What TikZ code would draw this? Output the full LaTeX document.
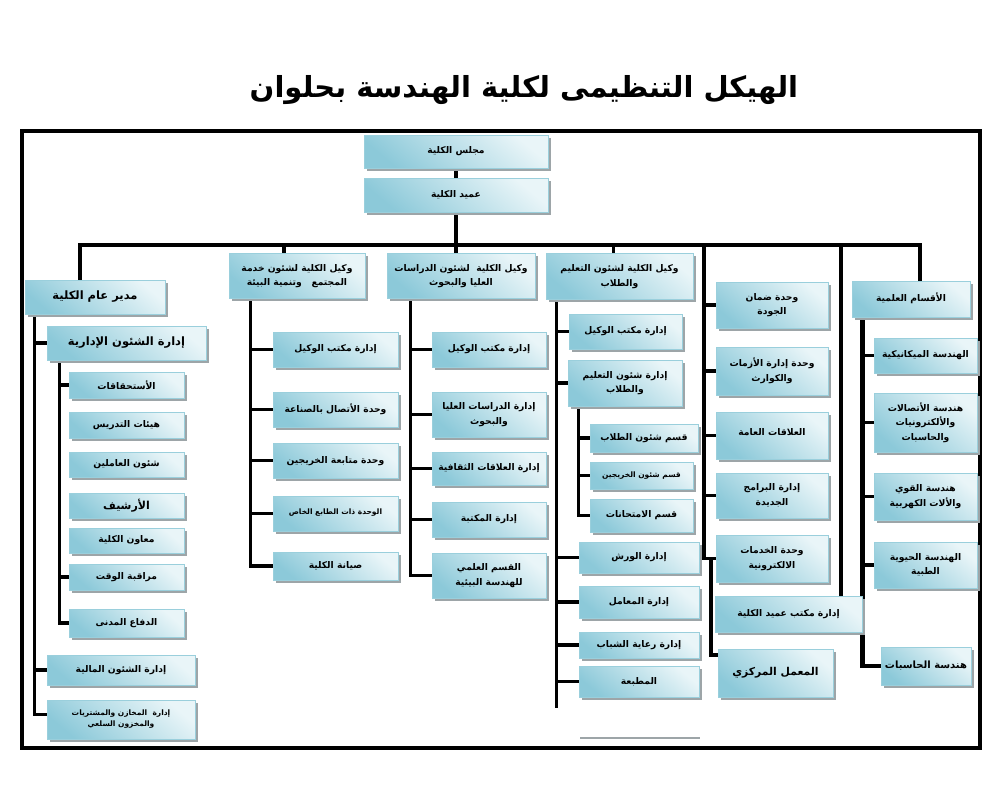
\documentclass[tikz,border=0pt]{standalone}
\usepackage{fontspec}
\usetikzlibrary{shadows,calc}
\TeXXeTstate=1
\newfontfamily\arabicfont[Script=Arabic]{DejaVu Sans}
\newcommand\ar[1]{{\arabicfont\bfseries\beginR #1\endR}}
\newcommand\up[2]{\raisebox{#1pt}{\begin{tabular}{@{}c@{}}#2\end{tabular}}}
\definecolor{boxdark}{HTML}{8CC9D9}
\definecolor{boxlight}{HTML}{E9F5F8}
\definecolor{boxedge}{HTML}{9ACFDC}
\definecolor{shadowc}{HTML}{9DA5A8}
\pgfdeclarelayer{bg}
\pgfsetlayers{bg,main}
\tikzset{
  box/.style={rectangle, inner sep=1pt, draw=boxedge, line width=0.6pt,
    top color=boxlight, bottom color=boxdark, shading angle=-40,
    drop shadow={shadow xshift=2.5pt, shadow yshift=-2.5pt, fill=shadowc, opacity=1},
    align=center, font=\fontsize{9.2}{14.5}\selectfont, text=black},
  big/.style={font=\fontsize{11.5}{14}\selectfont},
  small/.style={font=\fontsize{7.5}{11}\selectfont},
  conn/.style={line width=3.2pt, black},
  thick conn/.style={line width=4.5pt, black},
}
\newcommand\bx[7][]{%
  \pgfmathsetmacro\bxw{#5-#3}\pgfmathsetmacro\bxh{#6-#4}%
  \pgfmathsetmacro\bxx{(#3+#5)/2}\pgfmathsetmacro\bxy{(#4+#6)/2}%
  \node[box,minimum width=\bxw pt,minimum height=\bxh pt,#1] (#2) at (\bxx,\bxy) {#7};}
\begin{document}
\begin{tikzpicture}[x=1pt,y=-1pt]
\useasboundingbox (0,0) rectangle (991,804);
% title
\node[font=\fontsize{29}{34}\selectfont] (title) at (524,90) {\ar{الهيكل التنظيمى لكلية الهندسة بحلوان}};
% frame
\draw[line width=4.5pt] (22,131) rectangle (980,748);
% top
\bx{majlis}{364}{135}{548}{168}{\ar{مجلس الكلية}}
\bx{amid}{364}{178}{548}{212}{\ar{عميد الكلية}}
% column 1
\bx[big]{mudir}{25}{280}{165}{314}{\ar{مدير عام الكلية}}
\bx[big]{idariya}{47}{326}{206}{360}{\ar{إدارة الشئون الإدارية}}
\bx{a1}{69}{372}{184}{398}{\ar{الأستحقاقات}}
\bx{a2}{69}{412}{184}{438}{\ar{هيئات التدريس}}
\bx{a3}{69}{452}{184}{477}{\ar{شئون العاملين}}
\bx[font=\fontsize{11}{12}\selectfont]{a4}{69}{493}{184}{518}{\ar{الأرشيف}}
\bx{a5}{69}{528}{184}{553}{\ar{معاون الكلية}}
\bx{a6}{69}{564}{184}{590}{\ar{مراقبة الوقت}}
\bx{a7}{69}{609}{184}{637}{\ar{الدفاع المدنى}}
\bx{maliya}{47}{655}{195}{685}{\ar{إدارة الشئون المالية}}
\bx[small]{makhazin}{47}{700}{195}{739}{\ar{إدارة\ \ المخازن والمشتريات}\\\ar{والمخزون السلعي}}
% column 2
\bx{w2}{229}{253}{365}{298}{\up{3}{\ar{وكيل الكلية لشئون خدمة}\\\ar{المجتمع\ \ \ وتنمية البيئة}}}
\bx{b1}{273}{332}{398}{367}{\ar{إدارة مكتب الوكيل}}
\bx{b2}{273}{392}{398}{427}{\ar{وحدة الأتصال بالصناعة}}
\bx{b3}{273}{443}{398}{478}{\up{4}{\ar{وحدة متابعة الخريجين}}}
\bx[small]{b4}{273}{496}{398}{531}{\up{6}{\ar{الوحدة ذات الطابع الخاص}}}
\bx{b5}{273}{552}{398}{580}{\ar{صيانة الكلية}}
% column 3
\bx{w3}{387}{253}{535}{298}{\up{3}{\ar{وكيل الكلية\ \ لشئون الدراسات}\\\ar{العليا والبحوث}}}
\bx{c1}{432}{332}{546}{367}{\ar{إدارة مكتب الوكيل}}
\bx{c2}{432}{392}{546}{437}{\ar{إدارة الدراسات العليا}\\\ar{والبحوث}}
\bx{c3}{432}{452}{546}{485}{\ar{إدارة العلاقات الثقافية}}
\bx{c4}{432}{502}{546}{537}{\ar{إدارة المكتبة}}
\bx{c5}{432}{553}{546}{598}{\ar{القسم العلمي}\\\ar{للهندسة البيئية}}
% column 4
\bx{w4}{546}{253}{693}{299}{\up{3}{\ar{وكيل الكلية لشئون التعليم}\\\ar{والطلاب}}}
\bx{d1}{569}{314}{682}{349}{\ar{إدارة مكتب الوكيل}}
\bx{d2}{568}{360}{682}{406}{\ar{إدارة شئون التعليم}\\\ar{والطلاب}}
\bx{e1}{590}{424}{698}{452}{\ar{قسم شئون الطلاب}}
\bx[small]{e2}{590}{462}{693}{489}{\ar{قسم شئون الخريجين}}
\bx{e3}{590}{499}{693}{532}{\ar{قسم الامتحانات}}
\bx{d3}{579}{542}{699}{573}{\ar{إدارة الورش}}
\bx{d4}{579}{586}{699}{618}{\ar{إدارة المعامل}}
\bx{d5}{579}{632}{699}{658}{\ar{إدارة رعاية الشباب}}
\bx{d6}{579}{666}{699}{697}{\up{4}{\ar{المطبعة}}}
\draw[shadowc, line width=2pt] (580,738) -- (700,738);
% column 5
\bx{f1}{716}{282}{828}{328}{\ar{وحدة ضمان}\\\ar{الجودة}}
\bx{f2}{716}{347}{828}{395}{\ar{وحدة إدارة الأزمات}\\\ar{والكوارث}}
\bx{f3}{716}{412}{828}{459}{\up{11}{\ar{العلاقات العامة}}}
\bx{f4}{716}{473}{828}{518}{\ar{إدارة البرامج}\\\ar{الجديدة}}
\bx{f5}{716}{535}{828}{582}{\ar{وحدة الخدمات}\\\ar{الالكترونية}}
\bx{f6}{715}{596}{862}{632}{\ar{إدارة مكتب عميد الكلية}}
\bx[font=\fontsize{10.8}{13}\selectfont]{f7}{718}{649}{833}{697}{\ar{المعمل المركزي}}
% column 6
\bx{aqsam}{852}{281}{970}{317}{\up{5}{\ar{الأقسام العلمية}}}
\bx{g1}{874}{338}{977}{373}{\ar{الهندسة الميكانيكية}}
\bx{g2}{874}{393}{977}{452}{\ar{هندسة الأتصالات}\\\ar{والألكترونيات}\\\ar{والحاسبات}}
\bx{g3}{874}{473}{977}{520}{\ar{هندسة القوي}\\\ar{والألات الكهربية}}
\bx{g4}{874}{542}{977}{588}{\ar{الهندسة الحيوية}\\\ar{الطبية}}
\bx[font=\fontsize{10}{12}\selectfont]{g5}{881}{647}{971}{685}{\ar{هندسة الحاسبات}}
% connectors
\begin{pgfonlayer}{bg}
\coordinate (busL) at (80,245);
\coordinate (busR) at (920,245);
\coordinate (v5) at (704,245);
\coordinate (v6) at (841,245);
\draw[conn] (majlis.south) -- (amid.north);
\draw[conn] (amid.south) -- (amid.south |- w3.north);
\draw[conn] (mudir.north -| busL) -- (busL) -- (busR) -- (aqsam.north -| busR);
\draw[conn] ([xshift=-13pt]w2.north) -- ([xshift=-13pt]w2.north |- busL);
\draw[conn] ([xshift=-6pt]w4.north) -- ([xshift=-6pt]w4.north |- busL);
% column 1
\coordinate (m0) at ([xshift=10pt]mudir.south west);
\draw[conn] (m0) |- (idariya.west);
\draw[conn] (m0) |- (maliya.west);
\draw[conn] (m0) |- ([yshift=5pt]makhazin.west);
\coordinate (i0) at ([xshift=13pt]idariya.south west);
\draw[conn] (i0) |- (a1.west);
\draw[conn] (i0) |- (a6.west);
\draw[conn] (i0) |- (a7.west);
% column 2
\coordinate (k2) at ([xshift=22pt]w2.south west);
\foreach \n in {b1,b2,b3,b4,b5} \draw[conn] (k2) |- (\n.west);
% column 3
\coordinate (k3) at ([xshift=24pt]w3.south west);
\foreach \n in {c1,c2,c3,c4,c5} \draw[conn] (k3) |- (\n.west);
% column 4
\coordinate (k4) at ([xshift=11pt]w4.south west);
\coordinate (k4end) at (k4 |- 0,708);
\draw[conn] (k4) -- (k4end);
\foreach \n in {d1,d2,d3,d4,d5,d6} \draw[conn] (k4) |- (\n.west);
\coordinate (k5) at ([xshift=11pt]d2.south west);
\foreach \n in {e1,e2,e3} \draw[conn] (k5) |- (\n.west);
% column 5
\foreach \n in {f1,f2,f3,f4,f5} \draw[conn] (v5) |- (\n.west);
\draw[thick conn] ([xshift=7pt]v5 |- f5.west) |- ([yshift=18pt]f7.west);
\draw[conn] (v6) -- (v6 |- f6.north);
% column 6
\coordinate (k6) at ([xshift=11pt]aqsam.south west);
\foreach \n in {g1,g2,g3,g4} \draw[conn] (k6) |- (\n.west);
\draw[thick conn] (k6) |- (g5.west);
\end{pgfonlayer}
\end{tikzpicture}
\end{document}
